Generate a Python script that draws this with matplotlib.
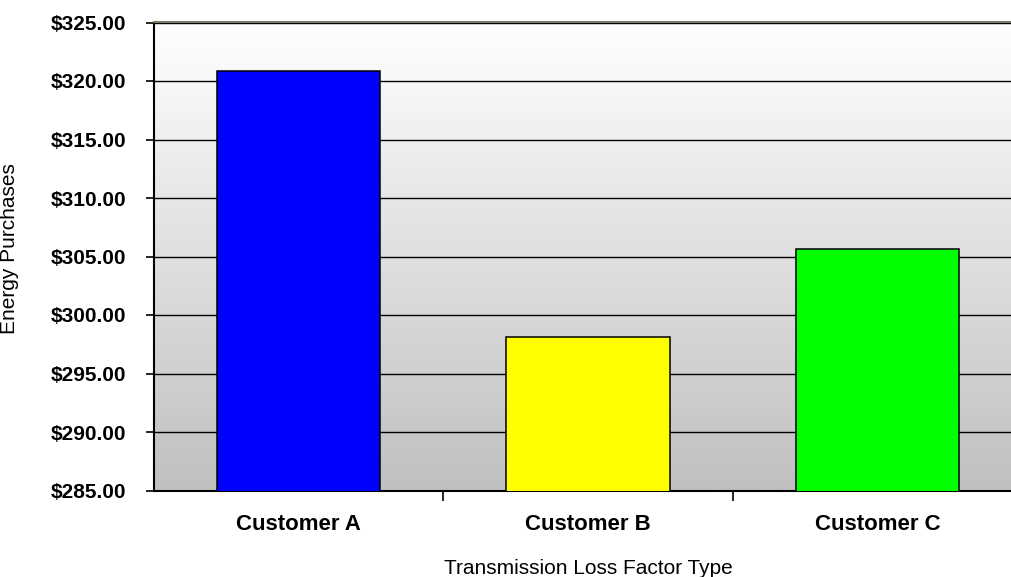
import numpy as np
import matplotlib
matplotlib.use("Agg")
import matplotlib.pyplot as plt
from matplotlib.colors import LinearSegmentedColormap
from matplotlib.ticker import FixedLocator

plt.rcParams['font.family'] = ['Liberation Sans', 'DejaVu Sans']

# energy purchase cost per customer
customers = ['Customer A', 'Customer B', 'Customer C']
purchases = [320.88, 298.15, 305.67]
bar_colors = ['#0000ff', '#ffff00', '#00ff00']
y_ticks = [285, 290, 295, 300, 305, 310, 315, 320, 325]

fig = plt.figure(figsize=(10.12, 5.77), dpi=100)
# plot area runs a little past the right edge of the figure
ax = fig.add_axes([154 / 1012, 86.5 / 577, 868 / 1012, 468 / 577])

x = np.arange(len(customers))

# grey-to-white background gradient
grad_cmap = LinearSegmentedColormap.from_list('bg', ['#c0c0c0', '#ffffff'])
grad = np.linspace(0, 1, 256).reshape(-1, 1)
ax.imshow(grad, cmap=grad_cmap, origin='lower', aspect='auto',
          extent=(-0.5, 2.5, y_ticks[0], y_ticks[-1]), zorder=0)

ax.bar(x, purchases, width=0.565, color=bar_colors, edgecolor='black',
       linewidth=1.1, zorder=3, bottom=0)

ax.set_xlim(-0.5, 2.5)
ax.set_ylim(y_ticks[0], y_ticks[-1])

# horizontal gridlines
ax.set_axisbelow(True)
ax.yaxis.grid(True, color='black', linewidth=1.0, zorder=1)

ax.set_yticks(y_ticks)
ax.set_yticklabels([f'${v:,.2f}' for v in y_ticks], fontsize=15, fontweight='bold')
ax.tick_params(axis='y', direction='out', length=6, width=1.2, pad=14)

ax.set_xticks(x)
ax.set_xticklabels(customers, fontsize=16, fontweight='bold')
ax.xaxis.set_minor_locator(FixedLocator([0.5, 1.5]))
ax.tick_params(axis='x', which='major', length=0, pad=17)
ax.tick_params(axis='x', which='minor', direction='out', length=7, width=1.2)

ax.spines['right'].set_visible(False)
ax.spines['left'].set_linewidth(1.5)
ax.spines['bottom'].set_linewidth(1.5)
ax.spines['top'].set_color('#7d7966')
ax.spines['top'].set_linewidth(1.5)

fig.text(10 / 1012, 1 - 248.5 / 577, 'Energy Purchases', rotation=90,
         ha='center', va='center', fontsize=15)
fig.text(588 / 1012, 1 - 573.5 / 577, 'Transmission Loss Factor Type',
         ha='center', va='baseline', fontsize=15)

fig.savefig('out.png', dpi=100)
